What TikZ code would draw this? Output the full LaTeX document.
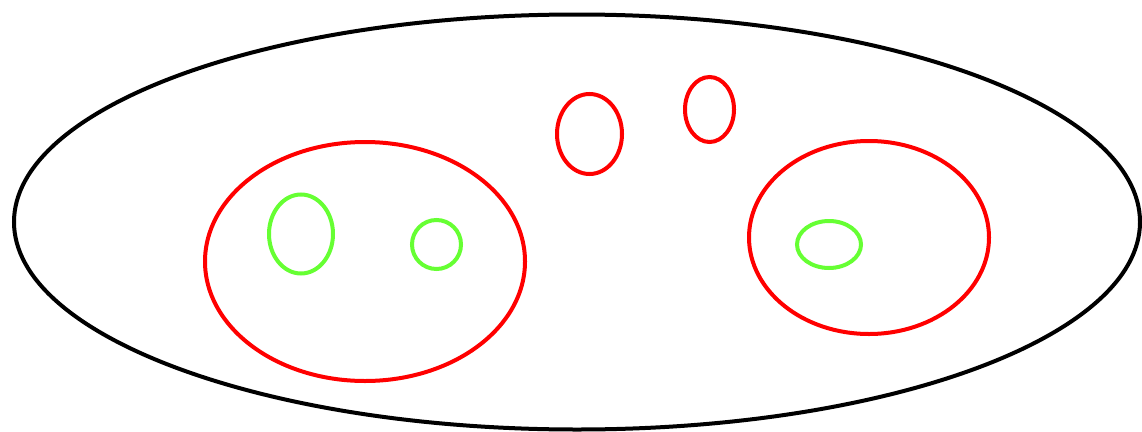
\documentclass[tikz,border=0pt]{standalone}
\begin{document}
\begin{tikzpicture}[x=1pt,y=-1pt,
  outerset/.style={draw=black,line width=4pt},
  redset/.style={draw=red,line width=4pt},
  greenset/.style={draw=green!60!lime,line width=4pt}]
\useasboundingbox (0,0) rectangle (1142,431);
\clip (0,0) rectangle (1142,431);
\definecolor{lgreen}{RGB}{102,255,51}
\draw[outerset] (577,222) ellipse [x radius=563, y radius=207.5];
\draw[redset] (365,261.5) ellipse [x radius=160, y radius=119.5];
\draw[redset] (869,237.5) ellipse [x radius=120, y radius=96.5];
\draw[redset] (589.5,134) ellipse [x radius=32.5, y radius=40];
\draw[redset] (709.5,109.5) ellipse [x radius=24.5, y radius=32.5];
\draw[greenset,draw=lgreen] (301,234) ellipse [x radius=32, y radius=39.5];
\draw[greenset,draw=lgreen] (436.5,244.5) ellipse [x radius=24.5, y radius=24.5];
\draw[greenset,draw=lgreen] (829,244.5) ellipse [x radius=32, y radius=23.5];
\end{tikzpicture}
\end{document}
